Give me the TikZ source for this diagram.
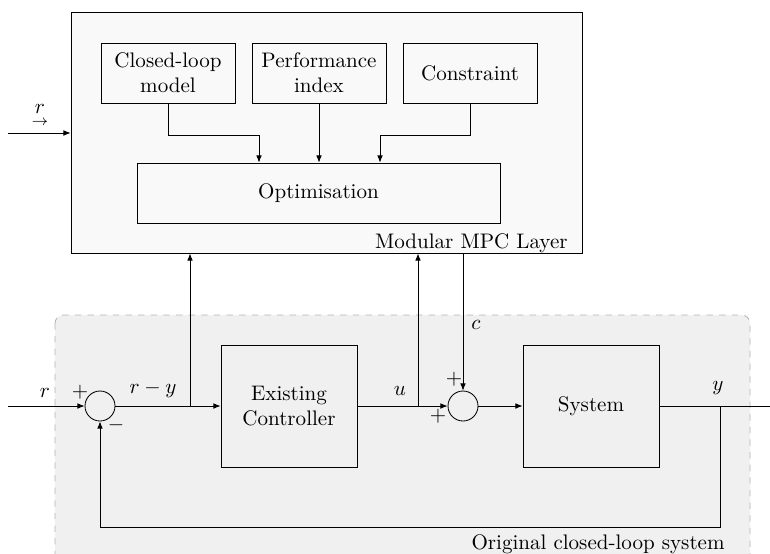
\documentclass[tikz,border=0pt]{standalone}
\usepackage{amsmath,amsthm,amssymb}
\usetikzlibrary{arrows.meta}

\begin{document}
\begin{tikzpicture}[x=0.475pt,y=-0.475pt,
  BlockStyle/.style={draw,rectangle,align=center,inner sep=0pt},
  SumStyle/.style={draw,circle,minimum size=14.25pt,inner sep=0pt},
  EdgeStyle/.style={-{Latex[length=3.4pt,width=2.7pt]}}]

\clip (0,0) rectangle (770,553);

% regions
\draw[gray!60,dashed,fill=gray!12,rounded corners=4pt] (55,315) rectangle (750,565);
\node[BlockStyle,fill=gray!5,minimum width=242.7pt,minimum height=114.5pt] (mpc) at (326.5,132.5) {};
\node[anchor=base east,inner sep=0pt] (mpclabel) at (568,248) {Modular MPC Layer};
\node[anchor=base east,inner sep=0pt] (olabel) at (725,549) {Original closed-loop system};

% MPC layer
\node[BlockStyle,minimum width=63.7pt,minimum height=28.5pt] (clmodel) at (168,73) {Closed-loop\\model};
\node[BlockStyle,minimum width=63.7pt,minimum height=28.5pt] (perf) at (319,73) {Performance\\index};
\node[BlockStyle,minimum width=63.7pt,minimum height=28.5pt] (constr) at (470,73) {Constraint};
\node[BlockStyle,minimum width=172.4pt,minimum height=28.5pt] (optim) at (318.5,193) {Optimisation};

% closed loop
\node[SumStyle] (sum1) at (100,406) {};
\node[BlockStyle,minimum width=64.6pt,minimum height=58pt] (ctrl) at (289,406) {Existing\\Controller};
\node[SumStyle] (sum2) at (463,406) {};
\node[BlockStyle,minimum width=64.6pt,minimum height=58pt] (plant) at (591,406) {System};

\coordinate (rtop) at (8,133);
\coordinate (rin) at (8,406);
\coordinate (j1) at (259,135);
\coordinate (j2) at (380,135);
\coordinate (br1) at (190,406);
\coordinate (br2) at (418,406);
\coordinate (br3) at (720,406);
\coordinate (fb) at (720,527);
\coordinate (yout) at (778,406);

% labels
\node (rtoplabel) at (40,116) {$\underset{\rightarrow}{r}$};
\node[anchor=base] (rlabel) at (45,397) {$r$};
\node (p1) at (80,392) {$+$};
\node (m1) at (116,425) {$-$};
\node (rylabel) at (153,389) {$r-y$};
\node (ulabel) at (400,391) {$u$};
\node (clabel) at (476,325) {$c$};
\node (p2) at (454,379) {$+$};
\node (p3) at (438,416) {$+$};
\node (ylabel) at (718,388) {$y$};

% connectors
\draw[EdgeStyle] (rtop) -- (rtop -| mpc.west);
\draw[EdgeStyle] (clmodel.south) |- (j1) -- (j1 |- optim.north);
\draw[EdgeStyle] (perf.south) -- (perf.south |- optim.north);
\draw[EdgeStyle] (constr.south) |- (j2) -- (j2 |- optim.north);

\draw[EdgeStyle] (rin) -- (sum1.west);
\draw[EdgeStyle] (sum1.east) -- (ctrl.west);
\draw[EdgeStyle] (br1) -- (br1 |- mpc.south);
\draw[EdgeStyle] (ctrl.east) -- (sum2.west);
\draw[EdgeStyle] (br2) -- (br2 |- mpc.south);
\draw[EdgeStyle] (sum2 |- mpc.south) -- (sum2.north);
\draw[EdgeStyle] (sum2.east) -- (plant.west);
\draw[EdgeStyle] (plant.east) -- (yout);
\draw[EdgeStyle] (br3) -- (fb) -| (sum1.south);
\end{tikzpicture}
\end{document}
